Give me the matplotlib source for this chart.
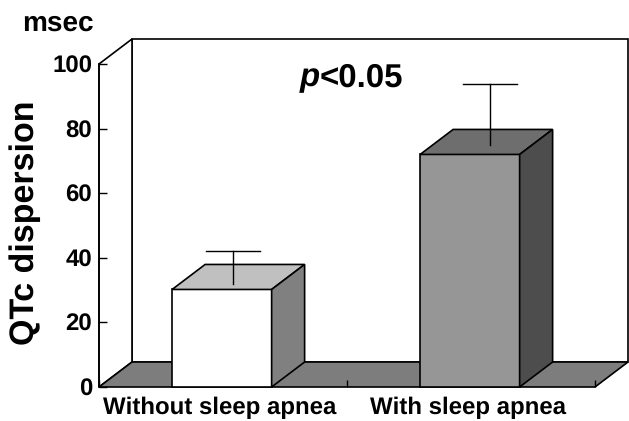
import matplotlib
matplotlib.use('Agg')
import matplotlib.pyplot as plt
from matplotlib.patches import Polygon

plt.rcParams['font.family'] = ['Liberation Sans', 'DejaVu Sans']
plt.rcParams['text.hinting'] = 'no_hinting'
plt.rcParams['text.hinting_factor'] = 1

categories = ['Without sleep apnea', 'With sleep apnea']
values = [30.2, 72]
err_top = [42.2, 93.7]
err_low = [32, 75]
err_x = [0.539, 1.575]
yticks = [0, 20, 40, 60, 80, 100]
front_colors = ['#ffffff', '#969696']
top_colors = ['#c0c0c0', '#6e6e6e']
side_colors = ['#808080', '#4d4d4d']

W, H = 629, 421
fig = plt.figure(figsize=(W / 100, H / 100), dpi=100)
ax = fig.add_axes([99 / W, 1 - 387 / H, (595 - 99) / W, (387 - 64) / H])
ax.set_xlim(0, 2)
ax.set_ylim(0, 100)
ax.patch.set_visible(False)

# depth offset of the 3d look, in data units
dx = 33 / 248
dy = 25 / 3.23
bar_w = 99.5 / 248
centers = [0.5, 1.5]
k = dict(clip_on=False, edgecolor='black', linewidth=1.2)

# floor and back walls
ax.add_patch(Polygon([(0, 0), (dx, dy), (2 + dx, dy), (2, 0)], facecolor='#7d7d7d', zorder=1, **k))
ax.add_patch(Polygon([(dx, dy), (dx, 100 + dy), (2 + dx, 100 + dy), (2 + dx, dy)], facecolor='white', zorder=0, **k))
ax.add_patch(Polygon([(0, 0), (0, 100), (dx, 100 + dy), (dx, dy)], facecolor='white', zorder=0, **k))

for c, v, e, lo, xm, fc, tc, sc in zip(centers, values, err_top, err_low, err_x, front_colors, top_colors, side_colors):
    x0 = c - bar_w / 2 - dx / 2 + 0.062
    x1 = x0 + bar_w
    ax.add_patch(Polygon([(x0, 0), (x0, v), (x1, v), (x1, 0)], facecolor=fc, zorder=3, **k))
    ax.add_patch(Polygon([(x0, v), (x0 + dx, v + dy), (x1 + dx, v + dy), (x1, v)], facecolor=tc, zorder=3, **k))
    ax.add_patch(Polygon([(x1, 0), (x1 + dx, dy), (x1 + dx, v + dy), (x1, v)], facecolor=sc, zorder=3, **k))
    ax.plot([xm, xm], [lo, e], color='black', lw=1, zorder=4)
    ax.plot([xm - 0.109, xm + 0.109], [e, e], color='black', lw=1, zorder=4)

ax.spines[['top', 'right', 'bottom']].set_visible(False)
ax.spines['left'].set_linewidth(1.2)
ax.set_yticks(yticks)
ax.set_xticks([0, 1, 2])
ax.set_xticklabels(['', '', ''])
ax.tick_params(axis='y', labelsize=17.5, length=6, pad=5, width=1, direction='in')
ax.tick_params(axis='x', length=5, width=1, direction='in')
for t in ax.get_yticklabels():
    t.set_fontweight('bold')
fig.text(25 / W, 1 - 223 / H, 'QTc dispersion', rotation=90, ha='center', va='center', fontsize=24.5, fontweight='bold')

fig.text(220 / W, 1 - 408 / H, categories[0], ha='center', va='center', fontsize=17, fontweight='bold')
fig.text(468 / W, 1 - 408 / H, categories[1], ha='center', va='center', fontsize=17, fontweight='bold')
fig.text(58 / W, 1 - 23 / H, 'msec', ha='center', va='center', fontsize=20, fontweight='bold')
fig.text(320 / W, 1 - 78 / H, 'p', ha='right', va='center', fontsize=23.5, fontweight='bold', style='italic')
fig.text(320 / W, 1 - 78 / H, '<0.05', ha='left', va='center', fontsize=23.5, fontweight='bold')

fig.savefig('out.png', dpi=100)
